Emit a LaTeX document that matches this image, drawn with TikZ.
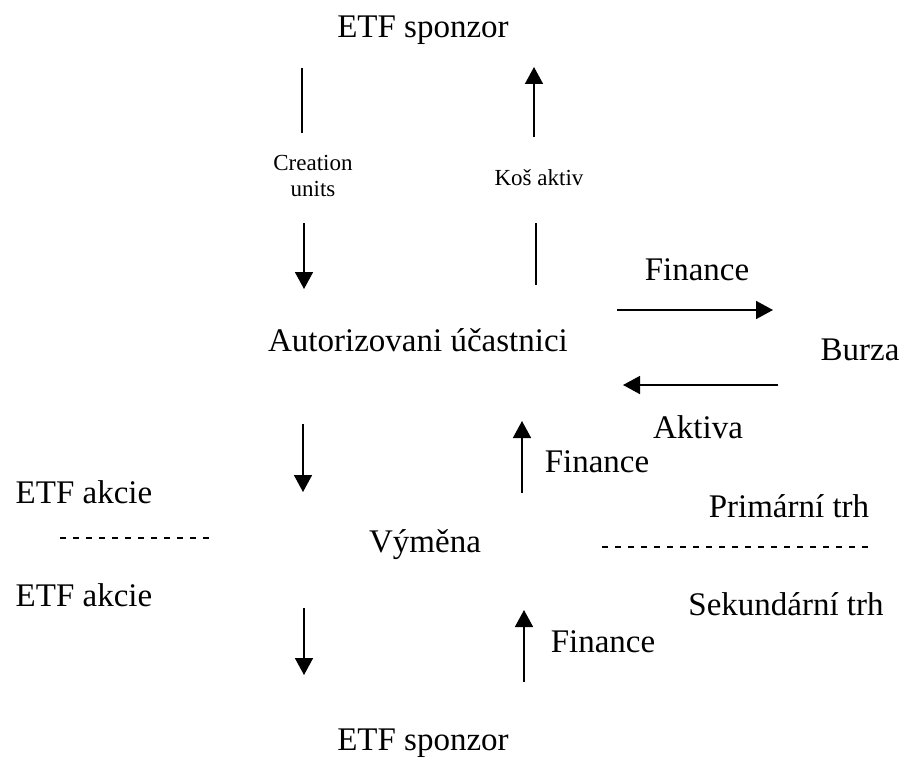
\documentclass[tikz,border=0pt]{standalone}
\usepackage{fontspec}
\setmainfont{Liberation Serif}
\usetikzlibrary{arrows.meta}
\begin{document}
\begin{tikzpicture}[x=1pt, y=-1pt,
  flow/.style={line width=1.6pt, -{Triangle[width=18pt,length=17pt]}},
  bar/.style={line width=1.6pt},
  split/.style={line width=1.3pt, dash pattern=on 6pt off 7pt},
  lbl/.style={font=\fontsize{33}{38}\selectfont, inner sep=0pt},
  small/.style={font=\fontsize{23}{26}\selectfont, inner sep=0pt, align=center}]
\useasboundingbox (0,0) rectangle (905,760);
% labels
\node[lbl] (sponzorTop) at (423,30) {ETF sponzor};
\node[small] (units) at (313,176) {Creation\\units};
\node[small] (kos) at (539,178) {Koš aktiv};
\node[lbl] (ucastnici) at (418,340) {Autorizovani účastnici};
\node[lbl] (finTop) at (697,270) {Finance};
\node[lbl] (burza) at (860,350) {Burza};
\node[lbl] (aktiva) at (698,427) {Aktiva};
\node[lbl] (finMid) at (597,462) {Finance};
\node[lbl] (akcieUp) at (84,492) {ETF akcie};
\node[lbl] (primarni) at (789,506) {Primární trh};
\node[lbl] (vymena) at (425,545) {Výměna};
\node[lbl] (akcieLow) at (84,595) {ETF akcie};
\node[lbl] (sekundarni) at (786,604) {Sekundární trh};
\node[lbl] (finLow) at (603,642) {Finance};
\node[lbl] (sponzorLow) at (423,743) {ETF sponzor};
% arrow ends
\coordinate (cu1) at (302,68);  \coordinate (cu2) at (302,133);
\coordinate (cu3) at (304,223); \coordinate (cu4) at (304,289);
\coordinate (ka1) at (534,137); \coordinate (ka2) at (534,67);
\coordinate (ka3) at (536,223); \coordinate (ka4) at (536,285);
\coordinate (bf1) at (617,310); \coordinate (bf2) at (773,310);
\coordinate (ba1) at (778,385); \coordinate (ba2) at (623,385);
\coordinate (va1) at (303,424); \coordinate (va2) at (303,492);
\coordinate (vf1) at (522,493); \coordinate (vf2) at (522,421);
\coordinate (sa1) at (304,608); \coordinate (sa2) at (304,675);
\coordinate (sf1) at (524,682); \coordinate (sf2) at (524,610);
\coordinate (dl1) at (60,538);  \coordinate (dl2) at (213,538);
\coordinate (dr1) at (602,547); \coordinate (dr2) at (870,547);
% sponzor <-> ucastnici
\draw[bar] (cu1) -- (cu2);
\draw[flow] (cu3) -- (cu4);
\draw[flow] (ka1) -- (ka2);
\draw[bar] (ka3) -- (ka4);
% burza
\draw[flow] (bf1) -- (bf2);
\draw[flow] (ba1) -- (ba2);
% vymena
\draw[flow] (va1) -- (va2);
\draw[flow] (vf1) -- (vf2);
\draw[flow] (sa1) -- (sa2);
\draw[flow] (sf1) -- (sf2);
\draw[split] (dl1) -- (dl2);
\draw[split] (dr1) -- (dr2);
\end{tikzpicture}
\end{document}
